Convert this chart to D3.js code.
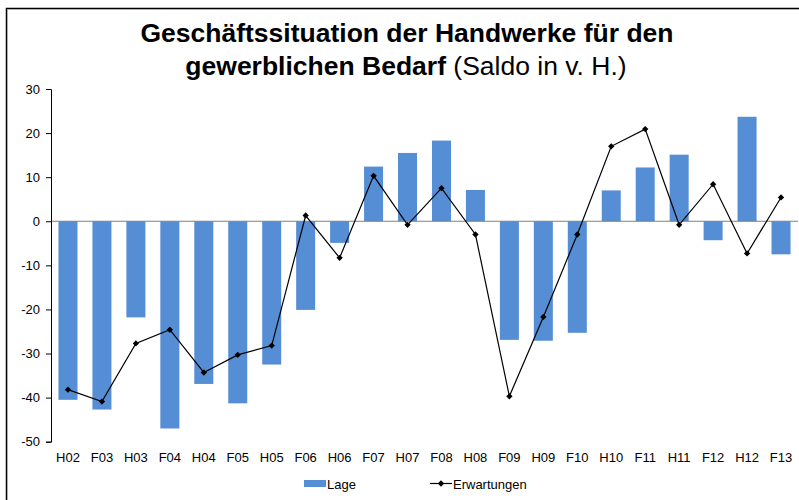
<!DOCTYPE html>
<html>
<head>
<meta charset="utf-8">
<script src="https://cdn.jsdelivr.net/npm/d3@7"></script>
<style>
  body { margin: 0; background: #fff; }
  svg { display: block; font-family: "Liberation Sans", Arial, sans-serif; }
</style>
</head>
<body>
<div id="chart"></div>
<script>
const categories = ["H02","F03","H03","F04","H04","F05","H05","F06","H06","F07","H07",
                    "F08","H08","F09","H09","F10","H10","F11","H11","F12","H12","F13"];
const lage = [-40.5,-42.7,-21.8,-47.0,-36.9,-41.3,-32.5,-20.1,-4.9,12.4,15.5,
              18.3,7.1,-26.9,-27.1,-25.3,7.0,12.2,15.1,-4.3,23.7,-7.5];
const erwartungen = [-38.2,-40.9,-27.7,-24.6,-34.3,-30.3,-28.2,1.3,-8.3,10.3,-0.8,
                     7.5,-3.0,-39.7,-21.7,-3.0,17.0,20.9,-0.8,8.4,-7.3,5.4];
const yTicks = [30,20,10,0,-10,-20,-30,-40,-50];

const W = 799, H = 500;
const margin = { top: 89, right: 1, bottom: 58, left: 51 };

const svg = d3.select("#chart").append("svg")
    .attr("width", W).attr("height", H);

// frame
svg.append("path")
   .attr("d", "M6.5,520 V8.5 H820")
   .attr("fill", "none").attr("stroke", "#000").attr("stroke-width", 1.5);
svg.append("path")
   .attr("d", "M7.5,520 V9.5 H820")
   .attr("fill", "none").attr("stroke", "#aaa").attr("stroke-width", 0.8);

// title
const title = svg.append("text")
   .attr("text-anchor", "middle")
   .attr("font-size", 26.5).attr("fill", "#000");
title.append("tspan").attr("x", 407).attr("y", 41.5)
   .attr("font-weight", "bold").text("Geschäftssituation der Handwerke für den");
const t2 = title.append("tspan").attr("x", 406).attr("y", 75);
t2.append("tspan").attr("font-weight", "bold").text("gewerblichen Bedarf");
t2.append("tspan").text(" (Saldo in v. H.)");

const x = d3.scaleBand()
    .domain(categories)
    .range([margin.left, W - margin.right])
    .paddingInner(0.44).paddingOuter(0.22);

const y = d3.scaleLinear()
    .domain([-50, 30])
    .range([441.7, 89]);

// bars
svg.append("g").selectAll("rect")
   .data(lage)
   .join("rect")
   .attr("x", (d, i) => x(categories[i]))
   .attr("width", x.bandwidth())
   .attr("y", d => y(Math.max(0, d)))
   .attr("height", d => Math.abs(y(d) - y(0)))
   .attr("fill", "#558ed5");

// zero line
svg.append("line")
   .attr("x1", margin.left).attr("x2", W - margin.right)
   .attr("y1", y(0)).attr("y2", y(0))
   .attr("stroke", "#808080").attr("stroke-width", 1.2);

// y axis
const yAxis = svg.append("g")
   .attr("transform", `translate(${margin.left},0)`)
   .call(d3.axisLeft(y).tickValues(yTicks).tickFormat(d => String(d)).tickSize(5).tickPadding(6));
yAxis.select(".domain").attr("stroke", "#000");
yAxis.selectAll(".tick line").attr("stroke", "#000");
yAxis.selectAll("text").attr("font-size", 13).attr("fill", "#000")
   .attr("font-family", "Liberation Sans, Arial, sans-serif");

// x labels
svg.append("g").selectAll("text")
   .data(categories)
   .join("text")
   .attr("x", d => x(d) + x.bandwidth() / 2)
   .attr("y", 462)
   .attr("text-anchor", "middle")
   .attr("font-size", 13)
   .text(d => d);

// line
const line = d3.line()
   .x((d, i) => x(categories[i]) + x.bandwidth() / 2)
   .y(d => y(d));
svg.append("path")
   .datum(erwartungen)
   .attr("fill", "none").attr("stroke", "#000").attr("stroke-width", 1.2)
   .attr("d", line);

const diamond = d3.symbol().type(d3.symbolSquare).size(20);
svg.append("g").selectAll("path")
   .data(erwartungen)
   .join("path")
   .attr("transform", (d, i) => `translate(${x(categories[i]) + x.bandwidth() / 2},${y(d)}) rotate(45)`)
   .attr("d", diamond)
   .attr("fill", "#000");

// legend
const leg = svg.append("g");
leg.append("rect").attr("x", 304).attr("y", 480).attr("width", 22).attr("height", 7)
   .attr("fill", "#558ed5");
leg.append("text").attr("x", 327).attr("y", 489).attr("font-size", 13).text("Lage");
leg.append("line").attr("x1", 430).attr("x2", 452).attr("y1", 483.5).attr("y2", 483.5)
   .attr("stroke", "#000").attr("stroke-width", 1.2);
leg.append("path").attr("transform", "translate(441,483.5) rotate(45)").attr("d", diamond).attr("fill", "#000");
leg.append("text").attr("x", 453).attr("y", 489).attr("font-size", 13).text("Erwartungen");
</script>
</body>
</html>
